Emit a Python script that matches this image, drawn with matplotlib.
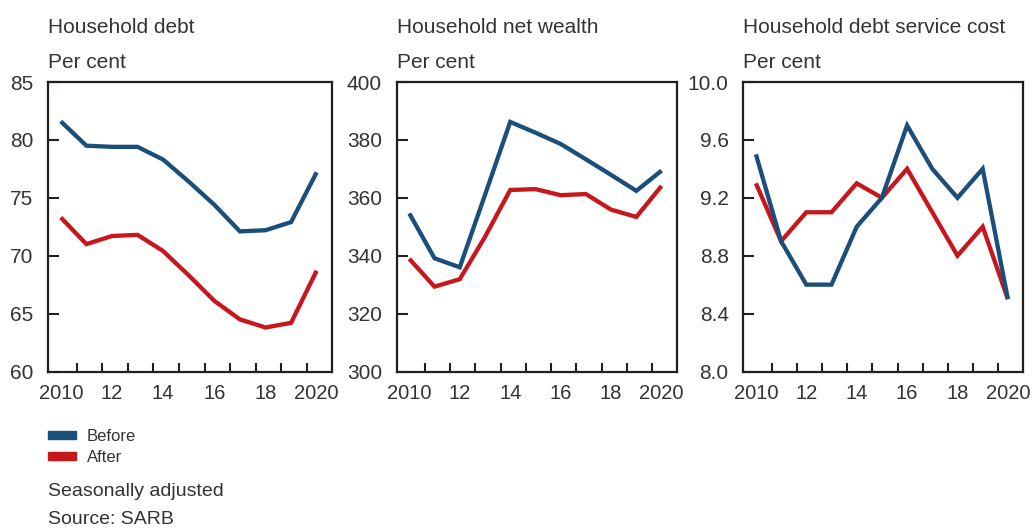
import numpy as np
import matplotlib
matplotlib.use("Agg")
import matplotlib.pyplot as plt
from matplotlib.patches import Rectangle

plt.rcParams['font.family'] = ['Liberation Sans', 'DejaVu Sans']

years = [2010, 2011, 2012, 2013, 2014, 2015, 2016, 2017, 2018, 2019, 2020]

debt_before = [81.6, 79.5, 79.4, 79.4, 78.3, 76.4, 74.4, 72.1, 72.2, 72.9, 77.2]
debt_after = [73.3, 71.0, 71.7, 71.8, 70.4, 68.3, 66.1, 64.5, 63.8, 64.2, 68.7]

wealth_before = [354.6, 339.1, 336.0, 361.0, 386.2, 382.5, 378.6, 373.3, 367.9, 362.4, 369.4]
wealth_after = [338.9, 329.3, 331.9, 346.5, 362.7, 363.0, 360.9, 361.3, 355.9, 353.4, 364.1]

service_before = [9.5, 8.9, 8.6, 8.6, 9.0, 9.2, 9.7, 9.4, 9.2, 9.4, 8.5]
service_after = [9.3, 8.9, 9.1, 9.1, 9.3, 9.2, 9.4, 9.1, 8.8, 9.0, 8.5]

titles = ["Household debt", "Household net wealth", "Household debt service cost"]
ylims = [(60, 85), (300, 400), (8.0, 10.0)]
yticks = [[60, 65, 70, 75, 80, 85],
          [300, 320, 340, 360, 380, 400],
          [8.0, 8.4, 8.8, 9.2, 9.6, 10.0]]
ytick_fmt = ["{:.0f}", "{:.0f}", "{:.1f}"]
xlabels = ["2010", "12", "14", "16", "18", "2020"]

blue = "#1b4f7a"
red = "#c8161d"
ink = "#231f20"
txt = "#333333"

W, H = 1034, 529
fig = plt.figure(figsize=(W / 100, H / 100), dpi=100)

# axes boxes in pixels: left, top, right, bottom
boxes = [(48, 82, 332, 371.5), (396.7, 82, 676.7, 371.5), (743.3, 82, 1023, 371.5)]
series = [(debt_before, debt_after), (wealth_before, wealth_after), (service_before, service_after)]

for i, (l, t, r, b) in enumerate(boxes):
    ax = fig.add_axes([l / W, 1 - b / H, (r - l) / W, (b - t) / H])
    before, after = series[i]
    ax.plot(years, after, color=red, lw=3.1, solid_capstyle="butt", solid_joinstyle="miter")
    ax.plot(years, before, color=blue, lw=3.1, solid_capstyle="butt", solid_joinstyle="miter")
    ax.set_xlim(2009.5, 2020.6)
    ax.set_ylim(*ylims[i])
    ax.set_yticks(yticks[i])
    ax.set_yticklabels([ytick_fmt[i].format(v) for v in yticks[i]])
    ax.set_xticks([2010, 2012, 2014, 2016, 2018, 2020])
    ax.set_xticklabels(xlabels)
    ax.set_xticks([y + 0.62 for y in years[:-1]], minor=True)
    ax.tick_params(axis="x", which="major", length=0, pad=9, labelsize=14.5, colors=txt)
    ax.tick_params(axis="x", which="minor", direction="in", length=6.5, width=1.5, color=ink)
    ax.tick_params(axis="y", which="major", direction="in", length=8, width=1.5, color=ink,
                   pad=10.5, labelsize=15, labelcolor=txt)
    for s in ax.spines.values():
        s.set_linewidth(1.6)
        s.set_color(ink)
    fig.text(l / W, 1 - 33 / H, titles[i], fontsize=15, color=txt, va="baseline", ha="left")
    fig.text(l / W, 1 - 68 / H, "Per cent", fontsize=15, color=txt, va="baseline", ha="left")

# legend
for y, c, lab in [(435, blue, "Before"), (456, red, "After")]:
    fig.patches.append(Rectangle((48 / W, 1 - (y + 4) / H), 28 / W, 8 / H,
                                 transform=fig.transFigure, color=c))
    fig.text(87 / W, 1 - (y + 6) / H, lab, fontsize=12, color=txt, va="baseline", ha="left")

fig.text(48 / W, 1 - 496.5 / H, "Seasonally adjusted", fontsize=14, color=txt, va="baseline", ha="left")
fig.text(48 / W, 1 - 524 / H, "Source: SARB", fontsize=14, color=txt, va="baseline", ha="left")

fig.savefig("out.png", dpi=100)
